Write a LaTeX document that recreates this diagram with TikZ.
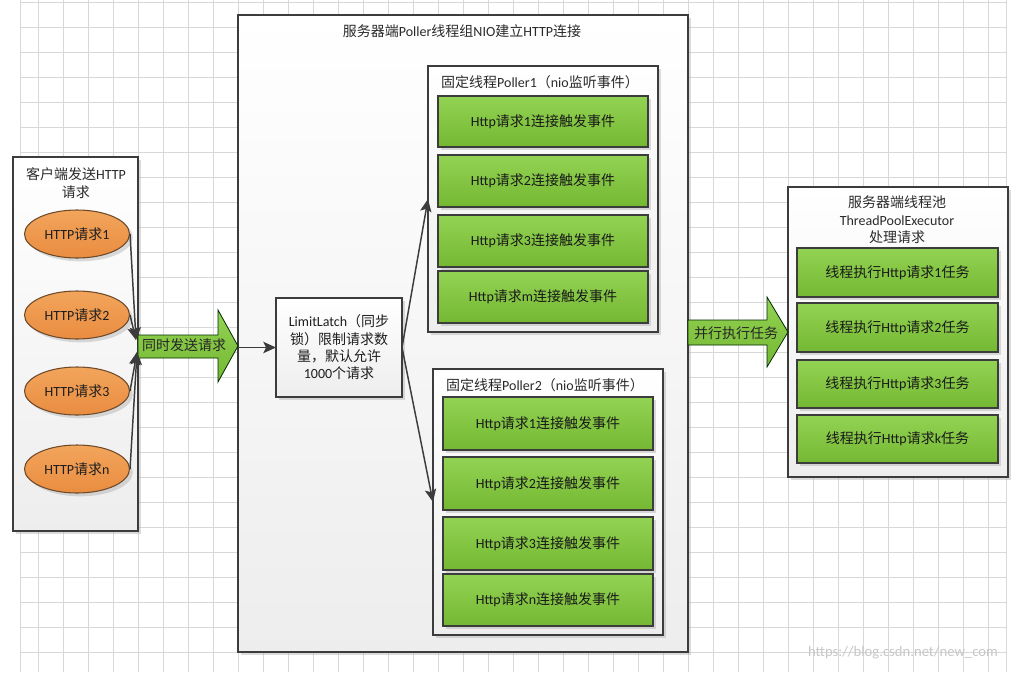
\documentclass[tikz,border=0pt]{standalone}
\usepackage{fontspec}
\setmainfont{Carlito}
\newfontfamily\cjk{Noto Sans CJK SC}
\newcommand\zh[1]{{\cjk #1}}
\usetikzlibrary{arrows.meta,shadows,shapes.geometric}
\definecolor{gridc}{HTML}{D8D8D8}
\definecolor{linec}{HTML}{3C3C3C}
\definecolor{gtop}{HTML}{93D354}
\definecolor{gbot}{HTML}{74B832}
\definecolor{otop}{HTML}{F2A55C}
\definecolor{obot}{HTML}{E98D40}
\definecolor{oline}{HTML}{6E4A2A}
\definecolor{txt}{HTML}{1E1E1E}
\definecolor{ttl}{HTML}{2A2A2A}
\begin{document}
\begin{tikzpicture}[x=0.75pt,y=-0.75pt,
  font=\fontsize{10.5}{13}\selectfont, text=txt,
  wh/.style 2 args={minimum width=#1*0.75pt,minimum height=#2*0.75pt,inner sep=0pt,outer sep=0pt,anchor=north west},
  shadowed/.style={drop shadow={shadow xshift=2.5pt,shadow yshift=-2.5pt,fill=black!35,opacity=.4}},
  panel/.style={draw=linec,line width=0.8pt,top color=white,bottom color=black!7,shadowed},
  gbox/.style={draw=linec,line width=0.8pt,top color=gtop,bottom color=gbot,shadowed,text=black!90},
  req/.style={ellipse,draw=oline,line width=0.8pt,top color=otop,bottom color=obot,
    minimum width=105*0.75pt,minimum height=48*0.75pt,inner sep=0pt,shadowed},
  ttlstyle/.style={text=ttl,align=center},
  conn/.style={draw=linec,line width=1.1pt,-{Stealth[length=9.5pt,width=8.5pt,inset=2pt]}},
  bigarrow/.style={draw=black!60!green!40!black,line width=0.6pt,top color=gtop,bottom color=gbot}
]
\useasboundingbox (0,0) rectangle (1020,672);
\fill[white] (0,0) rectangle (1020,672);
% grid
\foreach \gx in {38.3,63.3,...,1000} \draw[gridc,line width=0.75pt] (\gx,0) -- (\gx,672);
\draw[gridc,line width=0.75pt] (20.7,0) -- (20.7,672);
\draw[gridc,line width=0.75pt] (1006,0) -- (1006,672);
\foreach \gy in {2.3,27.3,...,672} \draw[gridc,line width=0.75pt] (20.7,\gy) -- (1006,\gy);

% left panel
\node[panel,wh={125}{374}] (L) at (13,157) {};
\node[ttlstyle] (Lt) at (76,183) {\zh{客户端发送}HTTP\\\zh{请求}};
\node[req] (e1) at (77,234) {HTTP\zh{请求}1};
\node[req] (e2) at (77,315) {HTTP\zh{请求}2};
\node[req] (e3) at (77,391) {HTTP\zh{请求}3};
\node[req] (en) at (77,469) {HTTP\zh{请求}n};

% main panel
\node[panel,wh={450}{637}] (M) at (238,15) {};
\node[ttlstyle] (Mt) at (462,31) {\zh{服务器端}Poller\zh{线程组}NIO\zh{建立}HTTP\zh{连接}};
\node[panel,wh={126}{99},align=center,text=txt] (latch) at (276,298)
  {LimitLatch\zh{（同步}\\\zh{锁）限制请求数}\\\zh{量，默认允许}\\1000\zh{个请求}};

\node[panel,wh={230}{266}] (P1) at (428,66) {};
\node[ttlstyle] (P1t) at (540,82) {\zh{固定线程}Poller1\zh{（}nio\zh{监听事件）}};
\node[gbox,wh={210}{51}] (p1a) at (438,96) {Http\zh{请求}1\zh{连接触发事件}};
\node[gbox,wh={210}{52}] (p1b) at (438,155) {Http\zh{请求}2\zh{连接触发事件}};
\node[gbox,wh={210}{52}] (p1c) at (438,215) {Http\zh{请求}3\zh{连接触发事件}};
\node[gbox,wh={210}{52}] (p1d) at (438,271) {Http\zh{请求}m\zh{连接触发事件}};

\node[panel,wh={230}{266}] (P2) at (433,369) {};
\node[ttlstyle] (P2t) at (545,385) {\zh{固定线程}Poller2\zh{（}nio\zh{监听事件）}};
\node[gbox,wh={210}{53}] (p2a) at (443,397) {Http\zh{请求}1\zh{连接触发事件}};
\node[gbox,wh={210}{53}] (p2b) at (443,457) {Http\zh{请求}2\zh{连接触发事件}};
\node[gbox,wh={210}{53}] (p2c) at (443,517) {Http\zh{请求}3\zh{连接触发事件}};
\node[gbox,wh={210}{52}] (p2d) at (443,574) {Http\zh{请求}n\zh{连接触发事件}};

% right panel
\node[panel,wh={220}{290}] (R) at (788,187) {};
\node[ttlstyle,text=ttl] (Rt) at (897,220) {\zh{服务器端线程池}\\ThreadPoolExecutor\\\zh{处理请求}};
\node[gbox,wh={201}{49}] (r1) at (797,248) {\zh{线程执行}Http\zh{请求}1\zh{任务}};
\node[gbox,wh={201}{49}] (r2) at (797,303) {\zh{线程执行}Http\zh{请求}2\zh{任务}};
\node[gbox,wh={201}{48}] (r3) at (797,360) {\zh{线程执行}Http\zh{请求}3\zh{任务}};
\node[gbox,wh={201}{48}] (r4) at (797,415) {\zh{线程执行}Http\zh{请求}k\zh{任务}};

% big green arrows
\path[bigarrow] (138,335) -- (218,335) -- (218,310) -- (238,346) -- (218,382) -- (218,358) -- (138,358) -- cycle;
\node[text=black!85] (sendtxt) at (184,345) {\zh{同时发送请求}};
\coordinate (tipL) at (238,347.5);
\path[bigarrow] (688,320) -- (767,320) -- (767,297) -- (788,332) -- (767,367) -- (767,345) -- (688,345) -- cycle;
\node[text=black!85] (partxt) at (736,333) {\zh{并行执行任务}};

% connectors
\coordinate (a1) at (136,340);
\coordinate (a2) at (137,352);
\draw[conn] (e1.east) -- (a1);
\draw[conn] (e2.east) -- (a1);
\draw[conn] (e3.east) -- (a2);
\draw[conn] (en.east) -- (a2);
\draw[conn] (tipL) -- (latch.west);
\draw[conn] (latch.east) -- (P1.west);
\draw[conn] (latch.east) -- (P2.west);

% watermark
\node[text=black!22,font=\fontsize{11}{13}\selectfont] (wm) at (903,653) {https://blog.csdn.net/new\_com};
\end{tikzpicture}
\end{document}
